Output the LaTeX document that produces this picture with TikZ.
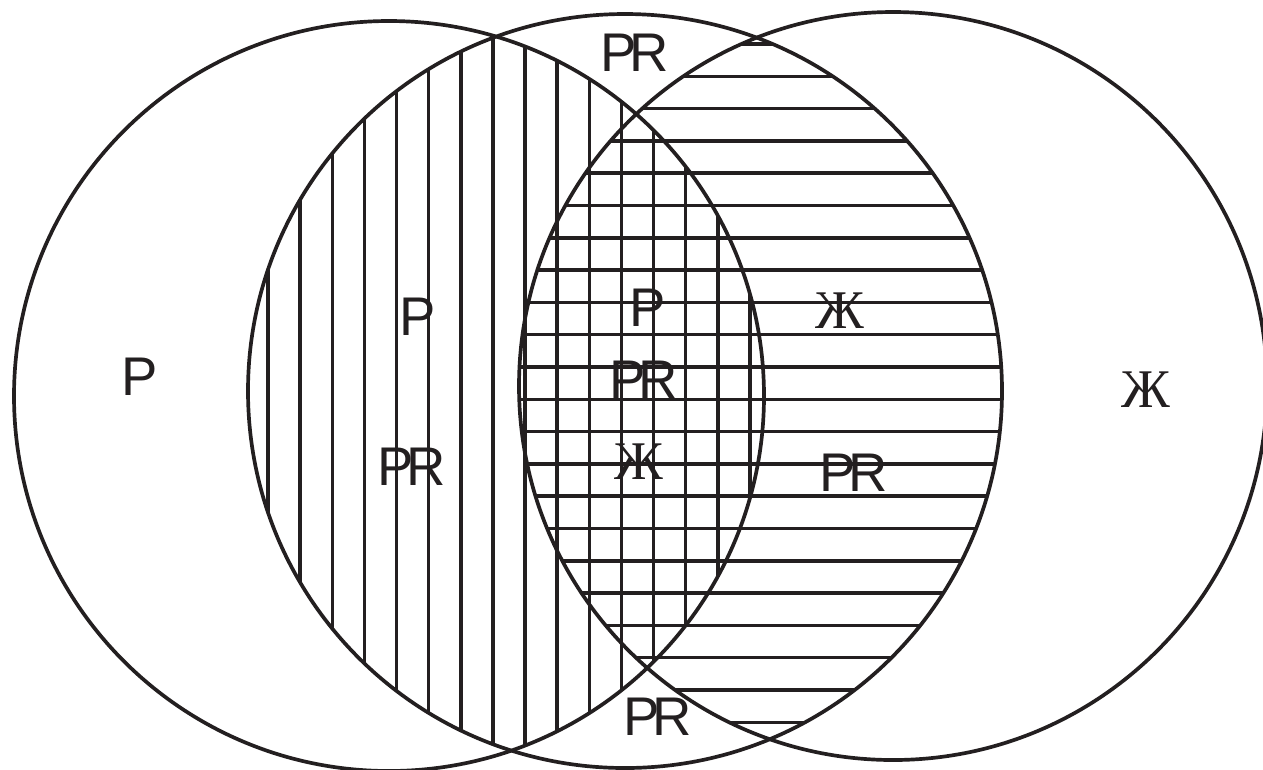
\documentclass[tikz,border=0pt]{standalone}
\usepackage{fontspec}
\setmainfont{Liberation Sans}
\newfontfamily\cyrfont{Liberation Serif}
\usepackage{tikz}

\definecolor{ink}{HTML}{231F20}
\tikzset{
  ring/.style={draw=ink, line width=2.1pt},
  hatch/.style={draw=ink, line width=2pt},
  lbl/.style={inner sep=0pt, text=ink, font=\fontsize{31}{31}\selectfont},
  zhe/.style={inner sep=0pt, text=ink, font=\cyrfont\fontsize{31}{31}\selectfont},
}
\newcommand{\pr}{P\kern-0.13emR}

\begin{document}
\begin{tikzpicture}[x=0.02cm, y=-0.02cm]
  \useasboundingbox (0,0) rectangle (1263,769);
  % circle centres
  \coordinate (cl) at (389,396);
  \coordinate (cm) at (625,391);
  \coordinate (cr) at (893,386);

  % vertical hatching (left and middle circles)
  \begin{scope}
    \clip (cl) circle (375);
    \clip (cm) circle (377);
    \foreach \i in {0,...,15}
      \draw[hatch] (268+32.13*\i,0) -- (268+32.13*\i,769);
  \end{scope}
  % horizontal hatching (middle and right circles)
  \begin{scope}
    \clip (cm) circle (377);
    \clip (cr) circle (374);
    \foreach \i in {0,...,21}
      \draw[hatch] (0,44+32.3*\i) -- (1263,44+32.3*\i);
  \end{scope}

  % circles
  \draw[ring] (cl) circle (375);
  \draw[ring] (cm) circle (377);
  \draw[ring] (cr) circle (374);

  % labels
  \node[lbl] (prtop) at (635,53) {\pr};
  \node[lbl] (pl) at (140,377) {P};
  \node[lbl] (pv) at (418,317) {P};
  \node[lbl] (prv) at (412,467) {\pr};
  \node[lbl] (pc) at (648,308) {P};
  \node[lbl] (prc) at (644,380) {\pr};
  \node[zhe] (zc) at (639,462) {Ж};
  \node[zhe] (zh) at (840,311) {Ж};
  \node[lbl] (prh) at (854,473) {\pr};
  \node[zhe] (zr) at (1146,390) {Ж};
  \node[lbl] (prbot) at (658,717) {\pr};
\end{tikzpicture}
\end{document}
